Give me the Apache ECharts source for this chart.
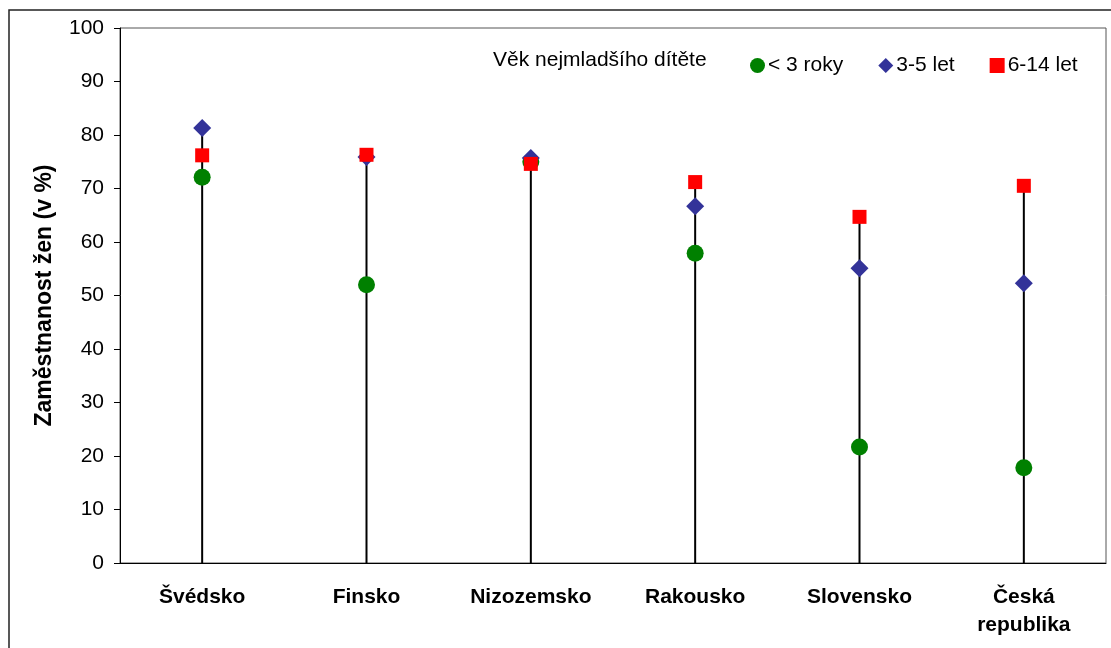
<!DOCTYPE html>
<html>
<head>
<meta charset="utf-8">
<script src="https://cdn.jsdelivr.net/npm/echarts@6/dist/echarts.min.js"></script>
<style>
  html, body { margin: 0; padding: 0; background: #fff; }
  #chart { width: 1111px; height: 648px; }
</style>
</head>
<body>
<div id="chart"></div>
<script>
// Data
const countries = ['Švédsko', 'Finsko', 'Nizozemsko', 'Rakousko', 'Slovensko', 'Česká\nrepublika'];
const under3 = [72.1, 52.0, 75.0, 57.9, 21.7, 17.8];
const age3to5 = [81.3, 75.9, 75.7, 66.7, 55.1, 52.3];
const age6to14 = [76.2, 76.3, 74.6, 71.2, 64.7, 70.5];
const yTicks = [0, 10, 20, 30, 40, 50, 60, 70, 80, 90, 100];

// stem height = highest value in each country
const stems = countries.map((c, i) => Math.max(under3[i], age3to5[i], age6to14[i]));

const font = 'Arial, "Liberation Sans", sans-serif';

const chart = echarts.init(document.getElementById('chart'));

const option = {
  animation: false,
  textStyle: { fontFamily: font },
  grid: {
    left: 120,
    right: 5,
    top: 28,
    bottom: 85,
    show: true,
    borderColor: '#555',
    borderWidth: 1
  },
  graphic: [
    {
      type: 'rect',
      shape: { x: 9, y: 10, width: 1200, height: 700 },
      style: { fill: 'none', stroke: '#222', lineWidth: 1.5 },
      silent: true,
      z: -1
    },
    {
      type: 'text',
      left: 493,
      top: 50,
      style: { text: 'Věk nejmladšího dítěte', fontSize: 21, fontFamily: font, fill: '#000' }
    }
  ],
  legend: {
    left: 745,
    top: 50,
    itemWidth: 15,
    itemHeight: 15,
    itemGap: 35,
    textStyle: { fontSize: 21, color: '#000', padding: [0, 0, 0, -2] },
    data: [
      { name: '< 3 roky', icon: 'circle' },
      { name: '3-5 let', icon: 'diamond' },
      { name: '6-14 let', icon: 'rect' }
    ]
  },
  xAxis: {
    type: 'category',
    data: countries,
    axisLine: { lineStyle: { color: '#000', width: 1 } },
    axisTick: { show: false },
    axisLabel: {
      color: '#000',
      fontSize: 21,
      fontWeight: 'bold',
      margin: 20,
      lineHeight: 28
    }
  },
  yAxis: {
    type: 'value',
    min: yTicks[0],
    max: yTicks[yTicks.length - 1],
    interval: 10,
    name: 'Zaměstnanost žen (v %)',
    nameLocation: 'middle',
    nameGap: 64,
    nameTextStyle: { fontSize: 23, fontWeight: 'bold', color: '#000' },
    axisLine: { show: true, lineStyle: { color: '#000', width: 1 } },
    axisTick: { show: true, length: 6, lineStyle: { color: '#000' } },
    axisLabel: { color: '#000', fontSize: 21, margin: 16 },
    splitLine: { show: false }
  },
  series: [
    {
      name: 'stem',
      type: 'bar',
      data: stems,
      barWidth: 2,
      itemStyle: { color: '#000' },
      silent: true,
      z: 1
    },
    {
      name: '< 3 roky',
      type: 'scatter',
      data: under3,
      symbol: 'circle',
      symbolSize: 17,
      itemStyle: { color: '#008000', opacity: 1 },
      z: 3
    },
    {
      name: '3-5 let',
      type: 'scatter',
      data: age3to5,
      symbol: 'diamond',
      symbolSize: 18,
      itemStyle: { color: '#333399', opacity: 1 },
      z: 4
    },
    {
      name: '6-14 let',
      type: 'scatter',
      data: age6to14,
      symbol: 'rect',
      symbolSize: 14,
      itemStyle: { color: '#FF0000', opacity: 1 },
      z: 5
    }
  ]
};

chart.setOption(option);
</script>
</body>
</html>
